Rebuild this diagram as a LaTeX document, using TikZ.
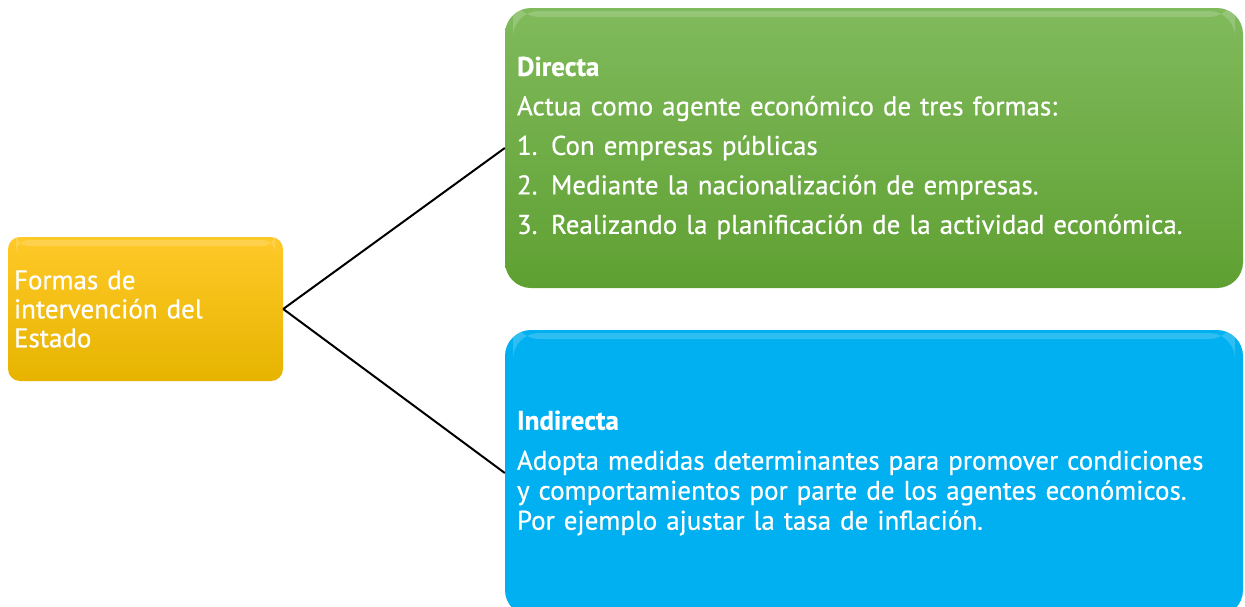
\documentclass[tikz,border=0pt]{standalone}
\usepackage{fontspec}
\setmainfont[FakeBold=0.6]{PT Sans}
\begin{document}
\begin{tikzpicture}[x=1pt,y=-1pt,
  box/.style={rounded corners=#1, align=left, anchor=center, text=white,
    font=\fontsize{27}{29}\selectfont,
    path picture={\fill[white,opacity=0.18]
      ([xshift=8pt,yshift=-3pt]path picture bounding box.north west) rectangle
      ([xshift=-8pt,yshift=-9pt]path picture bounding box.north east);}},
  link/.style={draw=black, line width=2pt}]
\clip (0,0) rectangle (1245,606);
\fill[white] (0,0) rectangle (1245,606);
\node[box=12, top color={rgb,255:red,255;green,201;blue,40}, bottom color={rgb,255:red,230;green,180;blue,0},
  minimum width=275, minimum height=144, inner xsep=6, text width=263]
  (root) at (145.5,309) {Formas de\\intervención del\\Estado};
\node[box=26,
  top color={rgb,255:red,128;green,186;blue,92}, bottom color={rgb,255:red,95;green,160;blue,50},
  minimum width=738, minimum height=280, inner xsep=12, text width=714,
  font=\fontsize{27}{39.5}\selectfont]
  (direct) at (874,148) {\textbf{Directa}\\Actua como agente económico de tres formas:\\1. Con empresas públicas\\2. Mediante la nacionalización de empresas.\\3. Realizando la planificación de la actividad económica.};
\node[box=26, fill={rgb,255:red,0;green,176;blue,240},
  minimum width=738, minimum height=286, inner xsep=12, text width=714,
  font=\fontsize{27}{30}\selectfont]
  (indirect) at (874,473) {\textbf{Indirecta}\\[10pt]Adopta medidas determinantes para promover condiciones\\y comportamientos por parte de los agentes económicos.\\Por ejemplo ajustar la tasa de inflación.};
\draw[link] (root.east) -- (direct.west);
\draw[link] (root.east) -- (indirect.west);
\end{tikzpicture}
\end{document}
